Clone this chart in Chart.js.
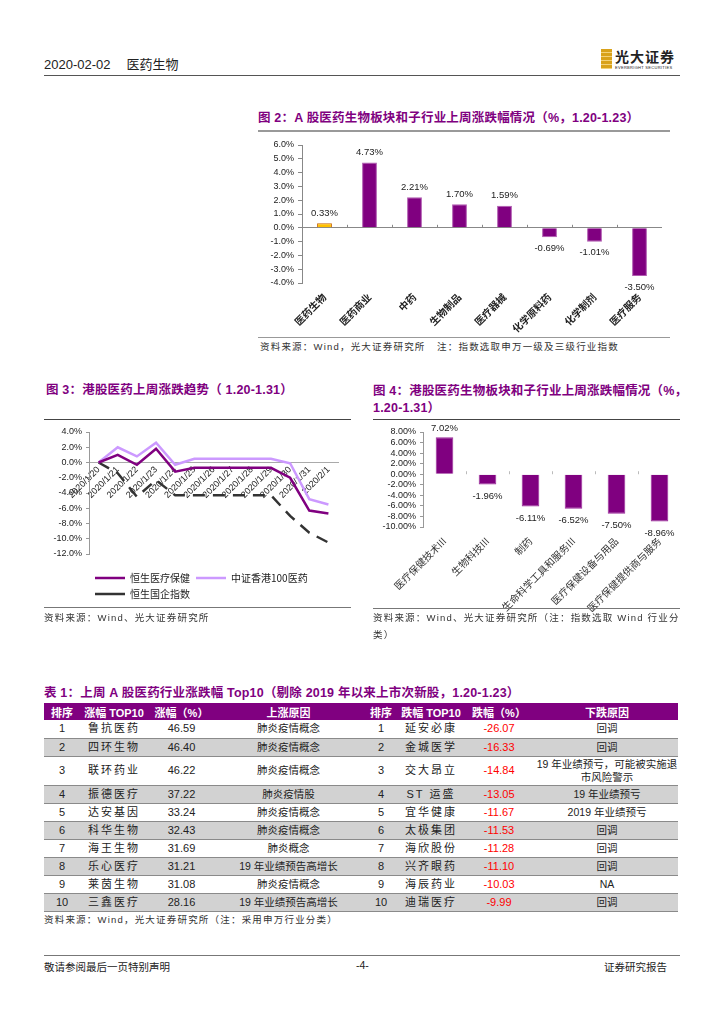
<!DOCTYPE html>
<html>
<head>
<meta charset="utf-8">
<script src="https://cdn.jsdelivr.net/npm/chart.js@4.4.1/dist/chart.umd.min.js"></script>
<style>
  body { margin: 0; background: #fff; font-family: "Liberation Sans", "Noto Sans CJK SC", sans-serif; color: #222; }
  #page { position: relative; width: 724px; height: 1024px; overflow: hidden; }
  .abs { position: absolute; white-space: nowrap; }
  .ttl { position: absolute; color: #800080; font-weight: bold; font-size: 12.5px; white-space: nowrap; line-height: 16px; letter-spacing: 0.2px; }
  .src { position: absolute; font-size: 9.5px; letter-spacing: 1.2px; color: #333; white-space: nowrap; line-height: 17px; }
  .rule { position: absolute; height: 0; }
  canvas { position: absolute; }
  #tbl { position: absolute; left: 44px; top: 703px; width: 634px; border-collapse: collapse; table-layout: fixed; font-size: 11px; }
  #tbl th { background: #800080; color: #fff; font-weight: bold; height: 17px; padding: 0; text-align: center; font-size: 11px; }
  #tbl td { padding: 0; text-align: center; border-bottom: 1px solid #8a8a8a; line-height: 13px; white-space: pre-line; }
  #tbl tr.g td { background: #d2d2d2; }
  #tbl td.nm { letter-spacing: 2px; }
  #tbl td.why { font-size: 10.5px; }
  #tbl td.neg { color: #ff0000; }
</style>
</head>
<body>
<div id="page">
  <!-- header -->
  <div class="abs" style="left:44px;top:54px;font-size:13px;">2020-02-02<span style="margin-left:16px;">医药生物</span></div>
  <div class="abs" style="left:601px;top:49px;width:11px;height:20px;background:repeating-linear-gradient(#d9a21b 0 3px,#f3d27a 3px 4px);"></div>
  <div class="abs" style="left:615px;top:46px;font-size:14px;font-weight:bold;letter-spacing:1px;">光大证券</div>
  <div class="abs" style="left:615px;top:65px;font-size:4px;letter-spacing:0.3px;">EVERBRIGHT SECURITIES</div>
  <div class="rule" style="left:44px;top:75px;width:636px;border-top:1.5px solid #555;"></div>

  <!-- figure 2 -->
  <div class="ttl" style="left:258px;top:110px;">图 2：A 股医药生物板块和子行业上周涨跌幅情况（%，1.20-1.23）</div>
  <div class="rule" style="left:258px;top:130px;width:412px;border-top:2px solid #999;"></div>
  <canvas id="c2" width="412" height="200" style="left:258px;top:135px;width:412px;height:200px;"></canvas>
  <div class="rule" style="left:258px;top:337px;width:412px;border-top:1px solid #999;"></div>
  <div class="src" style="left:260px;top:338px;">资料来源：Wind，光大证券研究所&nbsp;&nbsp;&nbsp;注：指数选取申万一级及三级行业指数</div>

  <!-- figure 3 -->
  <div class="ttl" style="left:46px;top:382px;">图 3：港股医药上周涨跌趋势（ 1.20-1.31）</div>
  <div class="rule" style="left:44px;top:419px;width:307px;border-top:1px solid #444;"></div>
  <canvas id="c3" width="307" height="187" style="left:44px;top:422px;width:307px;height:187px;"></canvas>
  <div class="rule" style="left:44px;top:607px;width:307px;border-top:1px solid #777;"></div>
  <div class="src" style="left:44px;top:609px;">资料来源：Wind、光大证券研究所</div>

  <!-- figure 4 -->
  <div class="ttl" style="left:373px;top:383px;">图 4：港股医药生物板块和子行业上周涨跌幅情况（%，</div>
  <div class="ttl" style="left:373px;top:400px;">1.20-1.31）</div>
  <div class="rule" style="left:373px;top:419px;width:307px;border-top:1px solid #444;"></div>
  <canvas id="c4" width="310" height="190" style="left:373px;top:422px;width:310px;height:190px;"></canvas>
  <div class="rule" style="left:373px;top:608px;width:307px;border-top:1px solid #777;"></div>
  <div class="src" style="left:373px;top:609px;">资料来源：Wind、光大证券研究所（注：指数选取 Wind 行业分</div>
  <div class="src" style="left:373px;top:626px;">类）</div>

  <!-- table 1 -->
  <div class="ttl" style="left:44px;top:685px;">表 1：上周 A 股医药行业涨跌幅 Top10（剔除 2019 年以来上市次新股，1.20-1.23）</div>
  <table id="tbl">
    <colgroup>
      <col style="width:36px"><col style="width:68px"><col style="width:67px"><col style="width:147px">
      <col style="width:38px"><col style="width:62px"><col style="width:74px"><col style="width:142px">
    </colgroup>
    <thead><tr id="thead"></tr></thead>
    <tbody id="tbody"></tbody>
  </table>
  <div class="src" style="left:44px;top:911px;">资料来源：Wind，光大证券研究所（注：采用申万行业分类）</div>

  <!-- footer -->
  <div class="rule" style="left:44px;top:955px;width:636px;border-top:1px solid #777;"></div>
  <div class="abs" style="left:44px;top:959px;font-size:10.5px;">敬请参阅最后一页特别声明</div>
  <div class="abs" style="left:356px;top:959px;font-size:10.5px;">-4-</div>
  <div class="abs" style="left:604px;top:959px;font-size:10.5px;">证券研究报告</div>
</div>

<script>
// figure 2: A-share sectors
const aCats = ['医药生物', '医药商业', '中药', '生物制品', '医疗器械', '化学原料药', '化学制剂', '医疗服务'];
const aVals = [0.33, 4.73, 2.21, 1.70, 1.59, -0.69, -1.01, -3.50];

// figure 3: HK trend
const hkDates = ['2020/1/20', '2020/1/21', '2020/1/22', '2020/1/23', '2020/1/24', '2020/1/25', '2020/1/26',
                 '2020/1/27', '2020/1/28', '2020/1/29', '2020/1/30', '2020/1/31', '2020/2/1'];
const hsHealth = [0, 1.0, -0.3, 1.8, -1.2, -0.7, -0.7, -0.7, -0.7, -0.7, -2.0, -6.3, -6.7];
const csiHkPharma = [0, 2.0, 0.8, 2.6, -0.3, 0.5, 0.5, 0.5, 0.5, 0.5, -0.1, -4.8, -5.5];
const hscei = [0, -1.4, -4.5, -2.3, -4.3, -4.3, -4.3, -4.3, -4.3, -4.3, -7.0, -9.2, -10.5];

// figure 4: HK sub-industries
const hCats = ['医疗保健技术III', '生物科技III', '制药', '生命科学工具和服务III', '医疗保健设备与用品', '医疗保健提供商与服务'];
const hVals = [7.02, -1.96, -6.11, -6.52, -7.50, -8.96];

// table 1
const tHead = ['排序', '涨幅 TOP10', '涨幅（%）', '上涨原因', '排序', '跌幅 TOP10', '跌幅（%）', '下跌原因'];
const ranks = [1, 2, 3, 4, 5, 6, 7, 8, 9, 10];
const upNames = ['鲁抗医药', '四环生物', '联环药业', '振德医疗', '达安基因', '科华生物', '海王生物', '乐心医疗', '莱茵生物', '三鑫医疗'];
const upVals = ['46.59', '46.40', '46.22', '37.22', '33.24', '32.43', '31.69', '31.21', '31.08', '28.16'];
const upWhy = ['肺炎疫情概念', '肺炎疫情概念', '肺炎疫情概念', '肺炎疫情股', '肺炎疫情概念', '肺炎疫情概念', '肺炎概念',
               '19 年业绩预告高增长', '肺炎疫情概念', '19 年业绩预告高增长'];
const downNames = ['延安必康', '金城医学', '交大昂立', 'ST 运盛', '宜华健康', '太极集团', '海欣股份', '兴齐眼药', '海辰药业', '迪瑞医疗'];
const downVals = ['-26.07', '-16.33', '-14.84', '-13.05', '-11.67', '-11.53', '-11.28', '-11.10', '-10.03', '-9.99'];
const downWhy = ['回调', '回调', '19 年业绩预亏，可能被实施退\n市风险警示', '19 年业绩预亏', '2019 年业绩预亏', '回调', '回调', '回调', 'NA', '回调'];

Chart.defaults.font.family = '"Liberation Sans", "Noto Sans CJK SC", sans-serif';
Chart.defaults.color = '#222';
Chart.defaults.animation = false;

const purple = '#800080';

// value labels above / below each bar
const barLabels = {
  id: 'barLabels',
  afterDatasetsDraw(chart, args, o) {
    const ctx = chart.ctx;
    const vals = chart.data.datasets[0].data;
    ctx.save();
    ctx.font = o.font;
    ctx.fillStyle = '#222';
    ctx.textAlign = 'center';
    ctx.textBaseline = 'middle';
    chart.getDatasetMeta(0).data.forEach((bar, i) => {
      const v = vals[i];
      const y = v >= 0 ? bar.y - o.up : bar.y + o.down;
      ctx.fillText(v.toFixed(2) + '%', bar.x, y);
    });
    ctx.restore();
  }
};

// short marks on the zero line between categories
const zeroTicks = {
  id: 'zeroTicks',
  afterDatasetsDraw(chart, args, o) {
    const xs = chart.scales.x, ys = chart.scales.y, ctx = chart.ctx;
    const y0 = ys.getPixelForValue(0);
    ctx.save();
    ctx.strokeStyle = o.color;
    ctx.lineWidth = 1;
    ctx.beginPath();
    for (let i = 1; i < chart.data.labels.length; i++) {
      const px = Math.round(xs.getPixelForValue(i - 0.5)) + 0.5;
      ctx.moveTo(px, y0);
      ctx.lineTo(px, y0 - o.len);
    }
    ctx.stroke();
    ctx.restore();
  }
};

// ---- figure 2
new Chart(document.getElementById('c2'), {
  type: 'bar',
  data: {
    labels: aCats,
    datasets: [{
      data: aVals,
      backgroundColor: aVals.map((v, i) => i === 0 ? '#FFC000' : purple),
      borderColor: aVals.map((v, i) => i === 0 ? '#C86400' : '#B05AB0'),
      borderWidth: 1,
      barPercentage: 0.33,
      categoryPercentage: 1
    }]
  },
  options: {
    responsive: false,
    layout: { padding: { top: 10, right: 8, left: 0, bottom: 0 } },
    plugins: {
      legend: { display: false },
      tooltip: { enabled: false },
      barLabels: { font: '9.5px "Liberation Sans"', up: 10, down: 11 },
      zeroTicks: { color: '#888', len: 3 }
    },
    scales: {
      x: {
        grid: { display: false, drawTicks: false },
        border: { display: false },
        ticks: { autoSkip: false, minRotation: 45, maxRotation: 45, padding: 8,
                 font: { size: 10, weight: 'bold', family: '"Noto Sans CJK SC"' }, color: '#222' },
        afterFit: s => { s.height = 52; }
      },
      y: {
        min: -4, max: 6,
        ticks: { stepSize: 1, autoSkip: false, font: { size: 9 }, color: '#222', padding: 4,
                 callback: v => v.toFixed(1) + '%' },
        grid: { color: c => c.tick && c.tick.value === 0 ? '#888' : 'rgba(0,0,0,0)',
                tickColor: '#888', tickLength: 4 },
        border: { display: true, color: '#888' },
        afterFit: s => { s.width = 44; }
      }
    }
  },
  plugins: [barLabels, zeroTicks]
});

// ---- figure 3
new Chart(document.getElementById('c3'), {
  type: 'line',
  data: {
    labels: hkDates,
    datasets: [
      { label: '恒生医疗保健', data: hsHealth, borderColor: purple, backgroundColor: purple,
        borderWidth: 2.5, pointRadius: 0, tension: 0 },
      { label: '中证香港100医药', data: csiHkPharma, borderColor: '#CC99FF', backgroundColor: '#CC99FF',
        borderWidth: 2.5, pointRadius: 0, tension: 0 },
      { label: '恒生国企指数', data: hscei, borderColor: '#333', backgroundColor: '#333',
        borderWidth: 2.5, borderDash: [12, 8], pointRadius: 0, tension: 0 }
    ]
  },
  options: {
    responsive: false,
    layout: { padding: { top: 10, right: 13, left: 0, bottom: 0 } },
    plugins: {
      tooltip: { enabled: false },
      legend: {
        position: 'bottom', align: 'start', fullSize: false,
        title: { display: true, text: '', font: { size: 1, lineHeight: 1 }, padding: { top: 12, bottom: 0 } },
        labels: { usePointStyle: true, pointStyle: 'line', pointStyleWidth: 30, boxHeight: 10,
                  padding: 6, font: { size: 10, family: '"Noto Sans CJK SC"' }, color: '#222' }
      }
    },
    scales: {
      x: {
        position: { y: 0 },
        offset: true,
        grid: { display: false, drawTicks: false },
        border: { display: true, color: '#aaa' },
        ticks: { autoSkip: false, minRotation: 45, maxRotation: 45, padding: 2,
                 font: { size: 9 }, color: '#222' }
      },
      y: {
        min: -12, max: 4,
        ticks: { stepSize: 2, autoSkip: false, font: { size: 9 }, color: '#222', padding: 4,
                 callback: v => v.toFixed(1) + '%' },
        grid: { color: 'rgba(0,0,0,0)', tickColor: '#999', tickLength: 3 },
        border: { display: true, color: '#999' },
        afterFit: s => { s.width = 45; }
      }
    }
  }
});

// ---- figure 4
new Chart(document.getElementById('c4'), {
  type: 'bar',
  data: {
    labels: hCats,
    datasets: [{
      data: hVals,
      backgroundColor: purple,
      borderColor: '#9a2a9a',
      borderWidth: 1,
      barPercentage: 0.41,
      categoryPercentage: 1
    }]
  },
  options: {
    responsive: false,
    layout: { padding: { top: 10, right: 2, left: 0, bottom: 0 } },
    plugins: {
      legend: { display: false },
      tooltip: { enabled: false },
      barLabels: { font: '9.5px "Liberation Sans"', up: 9, down: 12 },
      zeroTicks: { color: '#bbb', len: 3 }
    },
    scales: {
      x: {
        grid: { display: false, drawTicks: false },
        border: { display: false },
        ticks: { autoSkip: false, minRotation: 45, maxRotation: 45, padding: 8,
                 font: { size: 10, family: '"Noto Sans CJK SC"' }, color: '#333' },
        afterFit: s => { s.height = 85; }
      },
      y: {
        min: -10, max: 8,
        ticks: { stepSize: 2, autoSkip: false, font: { size: 9 }, color: '#222', padding: 4,
                 callback: v => v.toFixed(2) + '%' },
        grid: { color: 'rgba(0,0,0,0)', tickColor: '#999', tickLength: 3 },
        border: { display: true, color: '#999' },
        afterFit: s => { s.width = 50; }
      }
    }
  },
  plugins: [barLabels, zeroTicks]
});

// ---- table 1
const thead = document.getElementById('thead');
tHead.forEach(t => { const th = document.createElement('th'); th.textContent = t; thead.appendChild(th); });
const tbody = document.getElementById('tbody');
ranks.forEach((r, i) => {
  const tr = document.createElement('tr');
  if (i % 2 === 1) tr.className = 'g';
  tr.style.height = (i === 2 ? 29 : 18) + 'px';
  const cells = [
    [r, ''], [upNames[i], 'nm'], [upVals[i], ''], [upWhy[i], 'why'],
    [r, ''], [downNames[i], 'nm'], [downVals[i], 'neg'], [downWhy[i], 'why']
  ];
  cells.forEach(([txt, cls]) => {
    const td = document.createElement('td');
    td.textContent = txt;
    if (cls) td.className = cls;
    tr.appendChild(td);
  });
  tbody.appendChild(tr);
});
</script>
</body>
</html>
